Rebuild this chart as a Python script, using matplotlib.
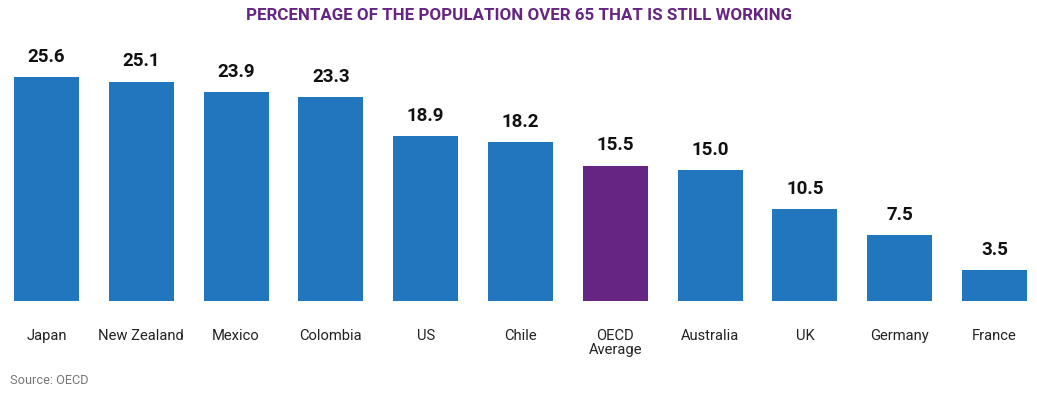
import matplotlib
matplotlib.use("Agg")
import matplotlib.pyplot as plt

categories = ["Japan", "New Zealand", "Mexico", "Colombia", "US", "Chile",
              "OECD\nAverage", "Australia", "UK", "Germany", "France"]
values = [25.6, 25.1, 23.9, 23.3, 18.9, 18.2, 15.5, 15.0, 10.5, 7.5, 3.5]
highlight = "OECD\nAverage"

BLUE = "#2176BD"
PURPLE = "#662483"

plt.rcParams['font.family'] = ['Roboto', 'DejaVu Sans']

W, H = 1037, 393
fig = plt.figure(figsize=(W / 100, H / 100), dpi=100)
ax = fig.add_axes([0, (H - 301) / H, 1, (301 - 40) / H])

x = list(range(len(categories)))
colors = [PURPLE if c == highlight else BLUE for c in categories]
ax.bar(x, values, width=0.686, color=colors)

for xi, v in zip(x, values):
    ax.annotate(f"{v:.1f}", (xi, v), xytext=(0, 8), textcoords="offset points",
                ha="center", va="bottom", fontsize=13.5, fontweight="bold", color="#111111")

ax.set_xlim(-0.4905, 10.448)
ax.set_ylim(0, 29.86)
ax.set_xticks(x)
ax.set_xticklabels(categories, fontsize=10.6, color="#222222", linespacing=1.0)
ax.tick_params(axis="x", length=0, pad=20)
ax.set_yticks([])
for s in ax.spines.values():
    s.set_visible(False)

fig.text(0.5, 1 - 16 / H, "PERCENTAGE OF THE POPULATION OVER 65 THAT IS STILL WORKING",
         ha="center", va="center", fontsize=12.2, fontweight="bold", color=PURPLE)
fig.text(10 / W, 1 - 380 / H, "Source: OECD", ha="left", va="center",
         fontsize=9.2, color="#777777")

fig.savefig("out.png", dpi=100)
